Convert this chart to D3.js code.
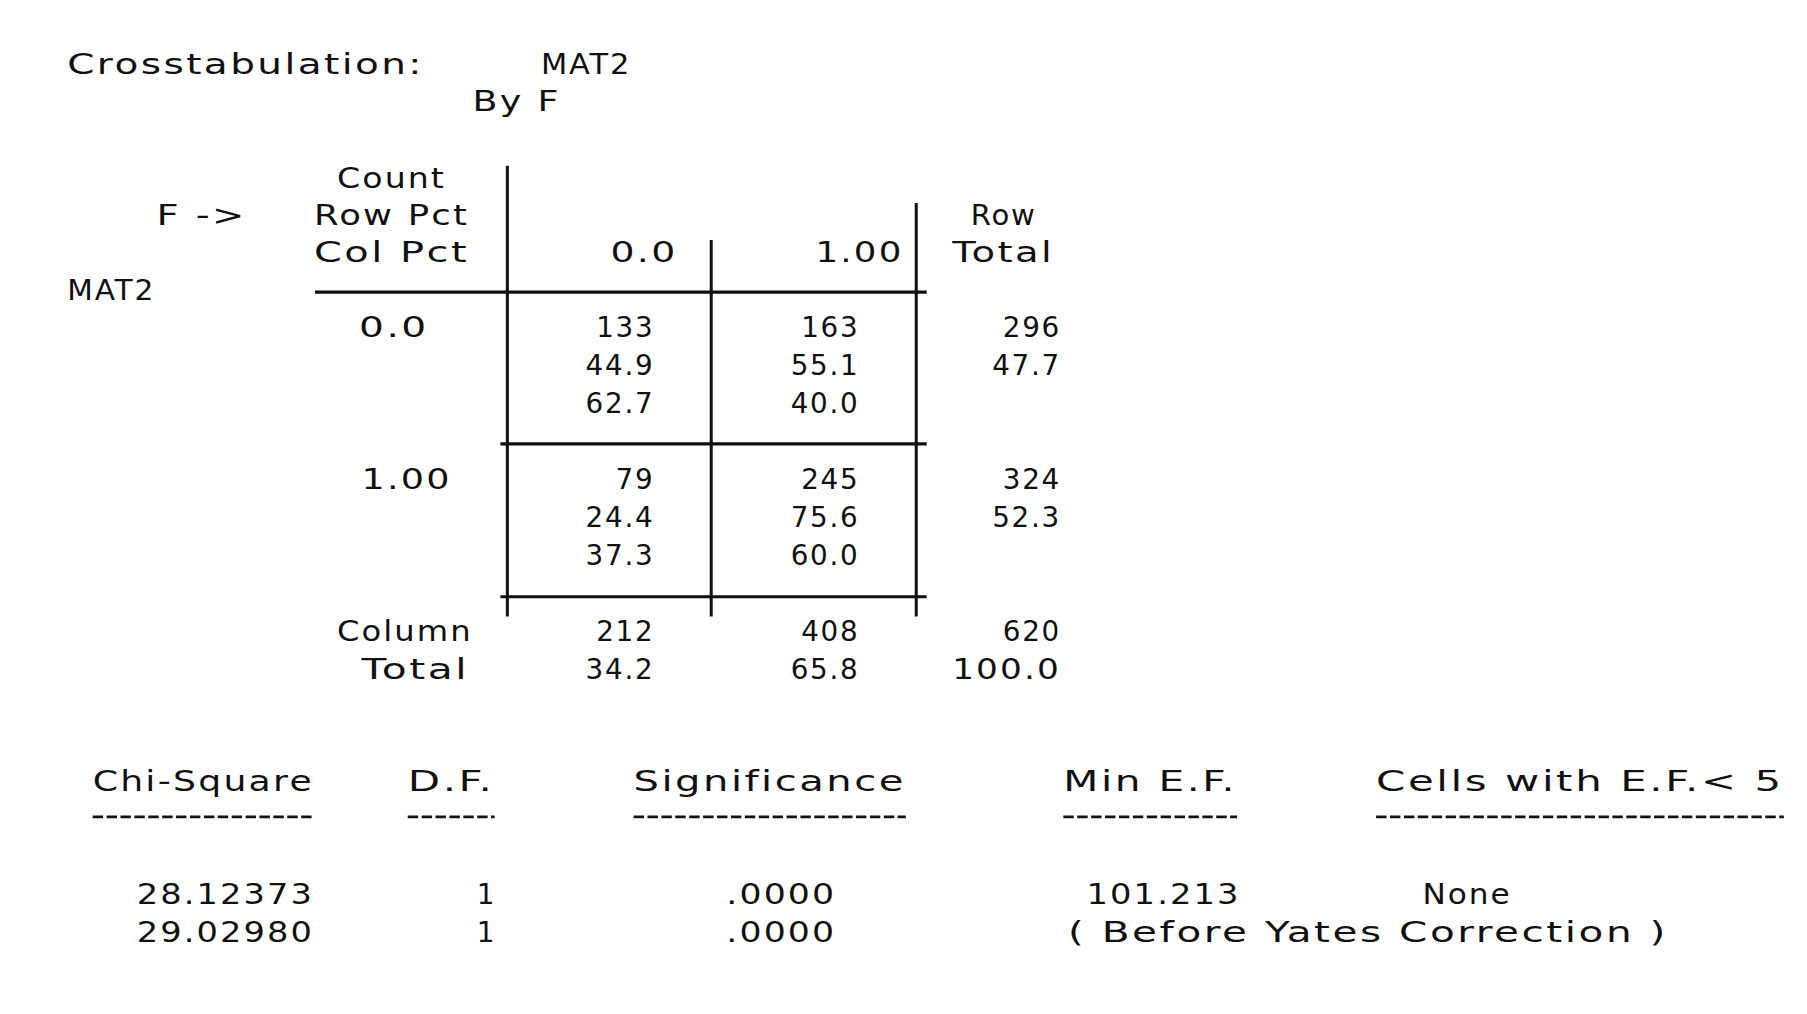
<!DOCTYPE html>
<html lang="en">
<head>
<meta charset="utf-8">
<title>Crosstabulation MAT2 by F</title>
<script src="https://d3js.org/d3.v7.min.js"></script>
<style>
  body { margin: 0; background: #fff; }
  text { font-family: "DejaVu Sans", sans-serif; font-size: 24px; fill: #111; letter-spacing: 1.5px; }
</style>
</head>
<body>
<script>
// data
var colLabels = ["0.0", "1.00"];
var rowLabels = ["0.0", "1.00"];
var counts  = [[133, 163], [79, 245]];
var rowPct  = [["44.9", "55.1"], ["24.4", "75.6"]];
var colPct  = [["62.7", "40.0"], ["37.3", "60.0"]];
var rowTotals = [296, 324];
var rowTotalPct = ["47.7", "52.3"];
var colTotals = [212, 408];
var colTotalPct = ["34.2", "65.8"];
var grandTotal = [620, "100.0"];
var statHeads = ["Chi-Square", "D.F.", "Significance", "Min E.F.", "Cells with E.F.< 5"];
var chiSq = ["28.12373", "29.02980"];
var df = ["1", "1"];
var sig = [".0000", ".0000"];

// drawn in 1560-wide space, scaled to window
var svg = d3.select("body").append("svg")
    .attr("width", 1807).attr("height", 1014)
    .attr("viewBox", "0 0 1560 875");

function txt(x, y, s, anchor, len) {
  var t = svg.append("text").attr("x", x).attr("y", y + 9)
    .attr("text-anchor", anchor || "start").text(s);
  if (len) t.attr("textLength", len).attr("lengthAdjust", "spacingAndGlyphs");
  return t;
}

// column right-edge positions
var colX = d3.scaleOrdinal().domain([0, 1, 2]).range([565, 742, 916]);
// line y within a block
var lineY = d3.scaleLinear().domain([0, 1]).range([0, 32.7]);
var blockTop = d3.scaleOrdinal().domain([0, 1, 2]).range([282, 413, 544]);

txt(58, 55, "Crosstabulation:", "start", 308);
txt(467, 55, "MAT2", "start", 78);
txt(408, 87, "By F", "start", 76);

txt(338, 153, "Count", "middle", 94);
txt(338, 185, "Row Pct", "middle", 134);
txt(338, 217, "Col Pct", "middle", 134);
txt(135, 185, "F ->", "start", 78);
txt(58, 250, "MAT2", "start", 76);
txt(585, 217, colLabels[0], "end", 58);
txt(780, 217, colLabels[1], "end", 76);
txt(838, 185, "Row", "start", 57);
txt(822, 217, "Total", "start", 88);

// grid lines
var lines = [
  [438, 143, 438, 532], [614, 207, 614, 532], [791, 175, 791, 532],
  [272, 252, 800, 252], [432, 383, 800, 383], [432, 515, 800, 515]
];
svg.selectAll("line.grid").data(lines).enter().append("line")
  .attr("x1", d => d[0]).attr("y1", d => d[1]).attr("x2", d => d[2]).attr("y2", d => d[3])
  .attr("stroke", "#111").attr("stroke-width", 2.6);

rowLabels.forEach(function (r, i) {
  txt(i === 0 ? 340 : 351, blockTop(i), r, "middle", i === 0 ? 60 : 78);
  for (var j = 0; j < 2; j++) {
    txt(colX(j), blockTop(i) + lineY(0), counts[i][j], "end");
    txt(colX(j), blockTop(i) + lineY(1), rowPct[i][j], "end");
    txt(colX(j), blockTop(i) + lineY(2), colPct[i][j], "end");
  }
  txt(colX(2), blockTop(i) + lineY(0), rowTotals[i], "end");
  txt(colX(2), blockTop(i) + lineY(1), rowTotalPct[i], "end");
});

txt(291, blockTop(2), "Column", "start", 117);
txt(405, blockTop(2) + lineY(1), "Total", "end", 93);
for (var j = 0; j < 2; j++) {
  txt(colX(j), blockTop(2), colTotals[j], "end");
  txt(colX(j), blockTop(2) + lineY(1), colTotalPct[j], "end");
}
txt(colX(2), blockTop(2), grandTotal[0], "end");
txt(colX(2), blockTop(2) + lineY(1), grandTotal[1], "end", 94);

// statistics
var headX = [[80, 271], [352, 427], [547, 782], [918, 1068], [1188, 1540]];
statHeads.forEach(function (h, i) {
  txt(headX[i][0], 674, h, "start", headX[i][1] - headX[i][0]);
  svg.append("line").attr("x1", headX[i][0]).attr("x2", headX[i][1])
    .attr("y1", 705).attr("y2", 705)
    .attr("stroke", "#111").attr("stroke-width", 2.4)
    .attr("stroke-dasharray", "9,3");
});
var statY = [771, 804];
chiSq.forEach(function (c, i) {
  txt(271, statY[i], c, "end", 153);
  txt(420, statY[i], df[i], "middle");
  txt(722, statY[i], sig[i], "end", 95);
});
txt(938, statY[0], "101.213", "start", 133);
txt(1228, statY[0], "None", "start", 77);
txt(922, statY[1], "( Before Yates Correction )", "start", 518);
</script>
</body>
</html>
